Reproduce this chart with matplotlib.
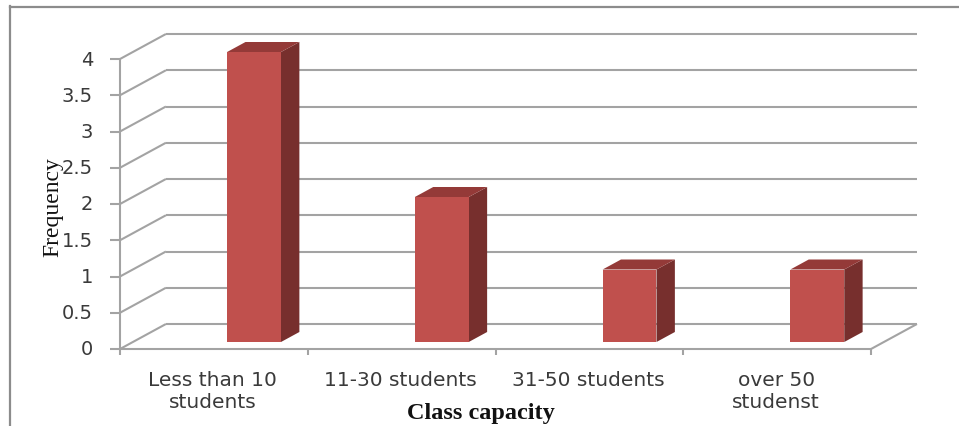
import matplotlib
matplotlib.use('Agg')
import matplotlib.pyplot as plt
from matplotlib.lines import Line2D
from matplotlib.patches import Polygon

plt.rcParams['font.family'] = ['DejaVu Sans']

categories = ['Less than 10\nstudents', '11-30 students', '31-50 students', 'over 50\nstudenst']
frequency = [4, 2, 1, 1]
y_ticks = [0, 0.5, 1, 1.5, 2, 2.5, 3, 3.5, 4]
y_tick_labels = ['0', '0.5', '1', '1.5', '2', '2.5', '3', '3.5', '4']

W, H = 959, 427
GRID = '#a3a3a3'
FRONT = '#c0504d'
SIDE = '#772f2d'
TOP = '#943a38'
TEXT = '#3a3a3a'

# fake 3d: depth 0 is the front edge, depth 1 the back wall
DX = 46 / 188
DY = 25 / 72.5


def proj(x, y, d):
    return x + d * DX, y + d * DY


fig = plt.figure(figsize=(W / 100, H / 100), dpi=100, facecolor='white')
ax = fig.add_axes([120 / W, 1 - 350 / H, 751 / W, 290 / H])
ax.set_xlim(0, 4)
ax.set_ylim(0, 4)
ax.axis('off')

# page frame
fig.add_artist(Line2D([10 / W, 10 / W], [0, 1 - 7 / H], color='#8c8c8c', lw=1.6))
fig.add_artist(Line2D([10 / W, 1], [1 - 7.5 / H, 1 - 7.5 / H], color='#8c8c8c', lw=1.6))

line = dict(color=GRID, lw=1.5, clip_on=False, solid_capstyle='butt')

# walls
for v, lab in zip(y_ticks, y_tick_labels):
    bx, by = proj(0, v, 1)
    ex, _ = proj(4, v, 1)
    ax.plot([0, bx], [v, by], zorder=1, **line)
    ax.plot([bx, ex], [by, by], zorder=1, **line)
    ax.plot([-10 / 188, 0], [v, v], zorder=3, **line)
    ax.text(-27 / 188, v, lab, ha='right', va='center', fontsize=14, color=TEXT, clip_on=False)

rx, ry = proj(4, 0, 1)
ax.plot([4, rx], [0, ry], zorder=1, **line)

# axes
ax.plot([0, 0], [0, 4], zorder=3, **line)
ax.plot([0, 4], [0, 0], zorder=3, **line)
for i in range(5):
    ax.plot([i, i], [0, -6 / 72.5], zorder=3, **line)

# bars
bar_start = 0.502
bar_w = 0.287
d0, d1 = 0.28, 0.68
for i, v in enumerate(frequency):
    x0 = i + bar_start
    x1 = x0 + bar_w
    a = proj(x0, 0, d0)
    b = proj(x1, 0, d0)
    c = proj(x1, v, d0)
    e = proj(x0, v, d0)
    f = proj(x1, 0, d1)
    g = proj(x1, v, d1)
    h = proj(x0, v, d1)
    ax.add_patch(Polygon([b, f, g, c], fc=SIDE, ec='none', zorder=4, clip_on=False))
    ax.add_patch(Polygon([e, c, g, h], fc=TOP, ec='none', zorder=4, clip_on=False))
    ax.add_patch(Polygon([a, b, c, e], fc=FRONT, ec='none', zorder=5, clip_on=False))

    ax.text(i + 0.495, -21.5 / 72.5, categories[i], ha='center', va='top', fontsize=14.5,
            color=TEXT, linespacing=1.16, clip_on=False)

fig.text(481 / W, 1 - 414 / H, 'Class capacity', ha='center', va='center', fontsize=17.5,
         fontweight='bold', family='Liberation Serif', color='#111111')
fig.text(53 / W, 1 - 207 / H, 'Frequency', ha='center', va='center', rotation=90, fontsize=17,
         family='Liberation Serif', color='#111111')

fig.savefig('out.png', dpi=100)
